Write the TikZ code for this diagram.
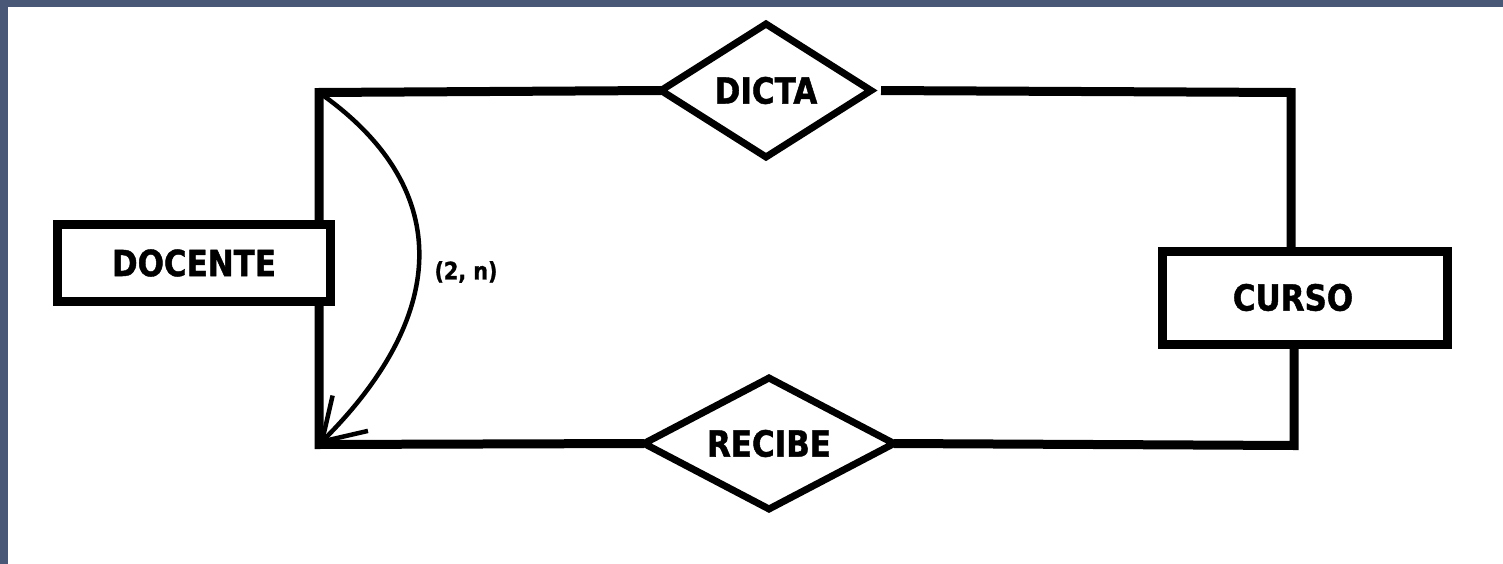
\documentclass[tikz,border=0pt]{standalone}
\usepackage{fontspec}
\newfontfamily\erfont{DejaVu Sans}[FakeStretch=0.86,FakeBold=1.2]
\usetikzlibrary{shapes.geometric,arrows.meta}
\definecolor{framebg}{HTML}{4A5878}
\begin{document}
\begin{tikzpicture}[x=1pt,y=-1pt,
  labelfont/.style={font=\erfont\bfseries\fontsize{36}{42}\selectfont},
  entity/.style={draw, rectangle, line width=9pt, inner sep=0pt, outer sep=0pt, labelfont},
  relation/.style={draw, diamond, aspect=2, line width=7pt, inner sep=0pt, outer sep=0pt, labelfont},
  link/.style={line width=9pt},
  card/.style={line width=4.5pt, -{Straight Barb[length=40pt,width=50pt,line width=4.5pt]}},
  cardtext/.style={font=\erfont\bfseries\fontsize{24}{29}\selectfont}]

  % page and frame
  \useasboundingbox (0,0) rectangle (1503,564);
  \fill[framebg] (0,0) rectangle (1503,564);
  \fill[white] (8,7) rectangle (1503,564);

  % entities and relationships
  \node[entity, minimum width=273pt, minimum height=77pt] (docente) at (194,263) {DOCENTE};
  \node[entity, minimum width=285pt, minimum height=93pt] (curso) at (1305,297.5) {CURSO\hspace*{24pt}};
  \node[relation, minimum width=210pt, minimum height=133pt] (dicta) at (766,90.5) {DICTA};
  \node[relation, minimum width=250pt, minimum height=131pt] (recibe) at (769,443.5) {RECIBE};

  % corners of the connecting lines
  \coordinate (tl) at (319,92.5);
  \coordinate (bl) at (319,444.5);
  \coordinate (tr) at (1291,92.5);
  \coordinate (br) at (1294,445.5);

  % connectors
  \draw[link] (dicta.west) -- (tl) -- (tl |- docente.north);
  \draw[link] (docente.south -| bl) -- (bl) -- (recibe.west);
  \draw[link, shorten <=10pt] (dicta.east) -- (tr) -- (tr |- curso.north);
  \draw[link] (curso.south -| br) -- (br) -- (recibe.east);

  % cardinality arc
  \draw[card] (tl) .. controls +(133,93) and +(133,-133) .. (bl);
  \node[cardtext] (cardlabel) at (466,272) {(2, n)};
\end{tikzpicture}
\end{document}
